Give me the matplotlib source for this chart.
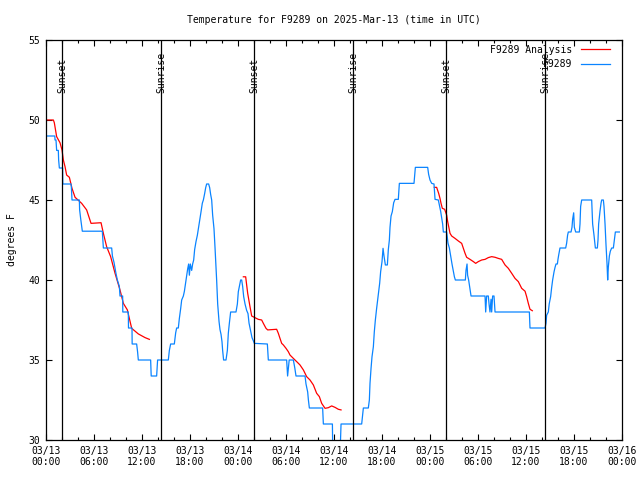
import matplotlib
matplotlib.use('Agg')
import matplotlib.pyplot as plt
from matplotlib.ticker import MultipleLocator

STATION = 'F9289'
TITLE = 'Temperature for F9289 on 2025-Mar-13 (time in UTC)'

# hours since 03/13 00:00 UTC
obs_hours = [0.0, 1.1, 1.13, 1.25, 1.33, 1.54, 1.58, 1.67, 2.08, 2.1, 3.13, 3.17, 3.25, 4.17, 4.2, 4.33, 4.54,
             7.04, 7.17, 8.21, 8.3, 8.5, 8.75, 8.92, 9.17, 9.25, 9.58, 9.6, 10.29, 10.31, 10.75, 10.77, 11.33,
             11.45, 11.54, 13.08, 13.15, 13.83, 13.95, 15.29, 15.42, 15.58, 16.04, 16.21, 16.33, 16.54, 16.67,
             16.83, 16.96, 17.17, 17.3, 17.42, 17.58, 17.71, 17.83, 17.92, 18.04, 18.21, 18.33, 18.46, 18.58,
             18.75, 18.92, 19.08, 19.25, 19.38, 19.54, 19.67, 19.83, 19.96, 20.08, 20.33, 20.46, 20.58, 20.71,
             20.83, 21.0, 21.13, 21.33, 21.46, 21.63, 21.75, 21.88, 22.0, 22.08, 22.2, 22.5, 22.67, 22.79, 22.92,
             23.08, 23.75, 23.92, 24.04, 24.21, 24.33, 24.46, 24.58, 24.71, 24.88, 25.08, 25.25, 25.38, 25.5,
             25.63, 25.75, 25.92, 26.04, 27.67, 27.79, 30.08, 30.2, 30.4, 30.92, 31.1, 31.25, 32.38, 32.5, 32.71,
             32.8, 32.92, 34.58, 34.67, 35.8, 35.85, 36.75, 36.88, 39.46, 39.6, 39.67, 40.29, 40.42, 40.5, 40.63,
             40.75, 40.92, 41.04, 41.17, 41.33, 41.46, 41.58, 41.71, 41.83, 42.0, 42.13, 42.25, 42.42, 42.67,
             42.79, 42.92, 43.0, 43.13, 43.29, 43.46, 43.63, 44.04, 44.17, 46.0, 46.17, 47.71, 47.83, 48.0, 48.21,
             48.5, 48.63, 49.04, 49.2, 49.33, 49.46, 49.58, 49.67, 50.08, 50.25, 50.42, 50.55, 50.75, 50.9, 51.05,
             51.17, 52.42, 52.5, 52.63, 52.7, 52.83, 52.95, 53.13, 54.88, 54.96, 55.08, 55.29, 55.4, 55.5, 55.63,
             55.71, 55.83, 56.0, 56.13, 60.42, 60.5, 62.38, 62.5, 62.58, 62.79, 62.9, 63.08, 63.2, 63.33, 63.5,
             63.63, 63.75, 63.92, 64.0, 64.1, 64.25, 64.96, 65.08, 65.2, 65.29, 65.63, 65.75, 65.83, 65.96, 66.04,
             66.21, 66.67, 66.75, 66.83, 66.96, 68.21, 68.33, 68.5, 68.67, 68.92, 69.0, 69.08, 69.25, 69.38, 69.46,
             69.67, 69.75, 69.88, 70.0, 70.13, 70.21, 70.29, 70.42, 70.54, 70.71, 70.92, 71.04, 71.17, 71.67]
obs_temp = [49.0, 49.0, 48.75, 48.75, 48.1, 48.1, 47.5, 47.0, 47.0, 46.0, 46.0, 45.8, 45.0, 45.0, 44.4, 43.85, 43.05,
            43.05, 42.0, 42.0, 41.5, 41.1, 40.4, 40.0, 39.6, 39.0, 39.0, 38.0, 38.0, 37.0, 37.0, 36.0, 36.0,
            35.5, 35.0, 35.0, 34.0, 34.0, 35.0, 35.0, 35.6, 36.0, 36.0, 36.7, 37.0, 37.0, 37.6,
            38.2, 38.75, 39.0, 39.3, 39.7, 40.2, 40.7, 41.0, 40.3, 41.0, 40.6, 41.0, 41.25, 41.9,
            42.4, 42.8, 43.3, 43.8, 44.27, 44.8, 45.0, 45.4, 45.77, 46.0, 46.0, 45.77, 45.35, 45.0,
            44.06, 43.2, 42.0, 40.0, 38.5, 37.4, 36.9, 36.6, 36.14, 35.6, 35.0, 35.0, 35.6, 36.67, 37.3,
            38.0, 38.0, 38.5, 39.27, 39.7, 40.0, 40.0, 39.6, 38.96, 38.5, 38.1, 37.9, 37.3, 37.0,
            36.67, 36.4, 36.2, 36.04, 36.0, 35.0, 35.0, 34.0, 35.0, 35.0, 34.5, 34.0, 34.0, 33.5, 33.0,
            32.5, 32.0, 32.0, 31.0, 31.0, 29.0, 29.0, 31.0, 31.0, 31.67, 32.0, 32.0, 32.5, 33.54, 34.48,
            35.2, 35.83, 36.77, 37.5, 38.23, 38.75, 39.27, 39.8, 40.52, 41.14, 41.98, 41.5, 40.94, 40.94,
            41.9, 42.5, 43.29, 44.0, 44.27, 44.83, 45.04, 45.04, 46.04, 46.04, 47.04, 47.04, 46.6, 46.25, 46.04,
            46.0, 45.04, 45.0, 44.6, 44.3, 43.9, 43.5, 43.0, 43.0, 42.3, 42.0, 41.6, 41.0, 40.6, 40.2,
            40.0, 40.0, 40.6, 41.0, 40.3, 40.0, 39.6, 39.0, 39.0, 38.0, 39.0, 39.0, 38.4, 38.0, 38.8,
            38.0, 39.0, 39.0, 38.0, 38.0, 37.0, 37.0, 37.3, 37.8, 38.0, 38.5, 38.96, 39.5, 40.0, 40.5,
            40.79, 41.0, 41.0, 41.3, 41.6, 42.0, 42.0, 42.3, 42.8, 43.0, 43.0, 43.3, 43.8, 44.2, 43.3,
            43.0, 43.0, 43.5, 44.6, 45.0, 45.0, 43.5, 42.8, 42.0, 42.0, 42.5, 43.5, 44.3, 44.8, 45.0,
            45.0, 44.6, 43.5, 42.2, 41.0, 40.0, 40.8, 41.5, 41.8, 42.0, 42.0, 42.5, 43.0, 43.0]

# analysis runs (three separate 12 h segments)
ana1_hours = [0.0, 0.92, 1.04, 1.33, 1.75, 2.0, 2.17, 2.38, 2.58, 2.92, 3.25, 3.63, 4.46, 5.08, 5.63, 6.88,
              7.17, 7.58, 8.08, 8.63, 9.25, 9.67, 10.17, 10.71, 11.54, 12.38, 12.92]
ana1_temp = [50.0, 50.0, 49.83, 48.96, 48.58, 48.13, 47.5, 47.08, 46.56, 46.42, 45.73, 45.17, 44.79, 44.38, 43.54,
             43.58, 42.92, 42.08, 41.46, 40.42, 39.38, 38.54, 38.13, 36.98, 36.63, 36.4, 36.29]
ana2_hours = [24.67, 24.96, 25.08, 25.21, 25.5, 25.71, 26.54, 26.96, 27.17, 27.5, 27.71, 28.83, 29.04, 29.25,
              29.46, 29.67, 30.0, 30.29, 30.5, 30.92, 31.33, 31.75, 32.17, 32.58, 33.0, 33.42, 33.83, 34.17,
              34.46, 34.88, 35.29, 35.71, 36.13, 36.54, 36.88]
ana2_temp = [40.2, 40.2, 39.7, 39.17, 38.33, 37.75, 37.54, 37.5, 37.29, 36.98, 36.88, 36.92, 36.67, 36.35,
             36.04, 35.94, 35.73, 35.52, 35.31, 35.1, 34.9, 34.69, 34.38, 33.96, 33.75, 33.44, 32.92, 32.71,
             32.29, 31.98, 32.02, 32.13, 32.04, 31.92, 31.88]
ana3_hours = [48.54, 48.83, 49.08, 49.25, 49.38, 49.54, 49.83, 50.08, 50.21, 50.38, 50.5, 50.71, 51.13, 51.54,
              51.96, 52.17, 52.38, 52.58, 53.0, 53.42, 53.71, 54.04, 54.46, 54.88, 55.29, 55.71, 56.13, 56.54,
              56.96, 57.38, 57.79, 58.21, 58.63, 59.04, 59.46, 59.88, 60.08, 60.29, 60.5, 60.79]
ana3_temp = [45.79, 45.79, 45.42, 45.1, 44.79, 44.48, 44.42, 44.06, 43.65, 43.23, 42.92, 42.75, 42.6, 42.44,
             42.29, 41.98, 41.67, 41.42, 41.29, 41.15, 41.04, 41.15, 41.25, 41.29, 41.4, 41.46, 41.42, 41.35,
             41.29, 40.94, 40.73, 40.42, 40.1, 39.9, 39.48, 39.3, 38.96, 38.54, 38.17, 38.08]

sun_hours = [2.03, 14.43, 26.04, 38.42, 50.04, 62.36]
sun_labels = ['Sunset', 'Sunrise', 'Sunset', 'Sunrise', 'Sunset', 'Sunrise']

tick_hours = list(range(0, 73, 6))
tick_labels = ['03/13\n00:00', '03/13\n06:00', '03/13\n12:00', '03/13\n18:00',
               '03/14\n00:00', '03/14\n06:00', '03/14\n12:00', '03/14\n18:00',
               '03/15\n00:00', '03/15\n06:00', '03/15\n12:00', '03/15\n18:00',
               '03/16\n00:00']

plt.rcParams['font.family'] = ['DejaVu Sans Mono']
plt.rcParams['font.size'] = 7

fig = plt.figure(figsize=(6.4, 4.8), dpi=100)
ax = fig.add_axes([46 / 640, 40 / 480, 576 / 640, 400 / 480])

RED = '#ff0000'
BLUE = '#0a84ff'

ax.plot(ana1_hours, ana1_temp, color=RED, lw=0.9, label=STATION + ' Analysis')
ax.plot(ana2_hours, ana2_temp, color=RED, lw=0.9)
ax.plot(ana3_hours, ana3_temp, color=RED, lw=0.9)
ax.plot(obs_hours, obs_temp, color=BLUE, lw=0.9, label=STATION)

for h, lab in zip(sun_hours, sun_labels):
    ax.axvline(h, color='black', lw=0.9)
    ax.text(h, 51.7, lab, rotation=90, ha='center', va='bottom', fontsize=7)

ax.set_xlim(0, 72)
ax.set_ylim(30, 55)
ax.set_xticks(tick_hours)
ax.set_xticklabels(tick_labels)
ax.xaxis.set_minor_locator(MultipleLocator(2))
ax.set_yticks([30, 35, 40, 45, 50, 55])
ax.tick_params(which='both', direction='in', top=True, right=True, width=0.8)
ax.tick_params(which='major', length=4, pad=4)
ax.tick_params(which='minor', length=2.5)
for s in ax.spines.values():
    s.set_linewidth(0.9)

ax.set_ylabel('degrees F')
ax.yaxis.set_label_coords(-0.051, 0.5)
ax.set_title(TITLE, fontsize=7, pad=12)

ax.legend(loc='upper right', bbox_to_anchor=(0.988, 1.0), frameon=False, markerfirst=False,
          handlelength=3, borderaxespad=0.1, labelspacing=0.45, handletextpad=0.9, fontsize=7)

fig.savefig('out.png', dpi=100)
